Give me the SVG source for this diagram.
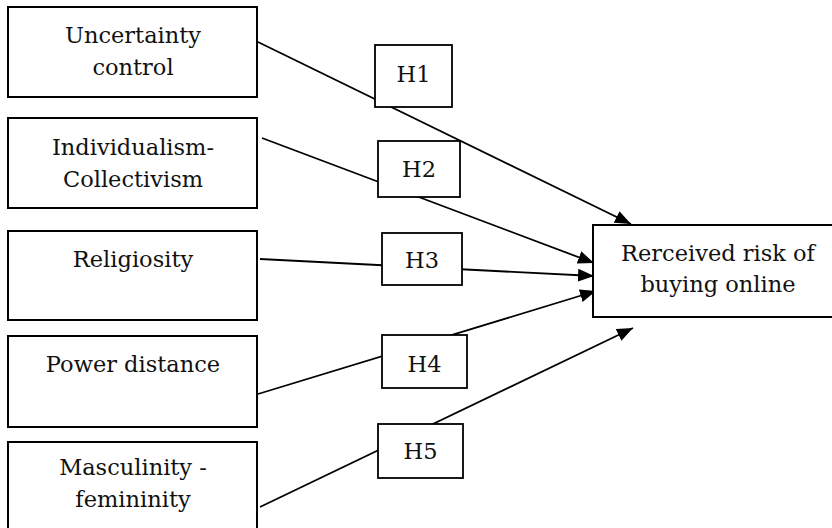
<svg xmlns="http://www.w3.org/2000/svg" width="832" height="528" viewBox="0 0 832 528">
<style>
.box{fill:#fff;stroke:#000;stroke-width:2}
.hb{fill:#fff;stroke:#000;stroke-width:1.8}
.t{font-family:"DejaVu Serif","Liberation Serif",serif;font-size:22.5px;fill:#111;text-anchor:middle}
.c{stroke:#000;stroke-width:1.8;fill:none;marker-end:url(#ah)}
</style>
<defs>
<marker id="ah" markerUnits="userSpaceOnUse" markerWidth="17" markerHeight="14" refX="16" refY="6.5" orient="auto">
<path d="M0,0 L16,6.5 L0,13 z" fill="#000"/>
</marker>
</defs>
<rect width="832" height="528" fill="#fff"/>
<g id="connectors">
<line class="c" x1="258" y1="42" x2="631" y2="224"/>
<line class="c" x1="262" y1="138" x2="594" y2="263"/>
<line class="c" x1="260" y1="259" x2="594" y2="276"/>
<line class="c" x1="258" y1="394" x2="596" y2="291"/>
<line class="c" x1="260" y1="507" x2="633" y2="328"/>
</g>
<g id="uncertainty">
<rect class="box" x="8" y="7" width="249" height="90"/>
<text class="t" x="133" y="43">Uncertainty</text>
<text class="t" x="133" y="75">control</text>
</g>
<g id="individualism">
<rect class="box" x="8" y="118" width="249" height="90"/>
<text class="t" x="133" y="155">Individualism-</text>
<text class="t" x="133" y="187">Collectivism</text>
</g>
<g id="religiosity">
<rect class="box" x="8" y="231" width="249" height="89"/>
<text class="t" x="133" y="267">Religiosity</text>
</g>
<g id="power">
<rect class="box" x="8" y="336" width="249" height="91"/>
<text class="t" x="133" y="372">Power distance</text>
</g>
<g id="masculinity">
<rect class="box" x="8" y="442" width="249" height="95"/>
<text class="t" x="133" y="475">Masculinity -</text>
<text class="t" x="133" y="507">femininity</text>
</g>
<g id="risk">
<rect class="box" x="593" y="225" width="250" height="92"/>
<text class="t" x="718" y="261">Rerceived risk of</text>
<text class="t" x="718" y="292">buying online</text>
</g>
<g id="h1">
<rect class="hb" x="375" y="45" width="77" height="62"/>
<text class="t" x="413.5" y="82">H1</text>
</g>
<g id="h2">
<rect class="hb" x="378" y="141" width="82" height="56"/>
<text class="t" x="419" y="177">H2</text>
</g>
<g id="h3">
<rect class="hb" x="382" y="233" width="80" height="52"/>
<text class="t" x="422" y="268">H3</text>
</g>
<g id="h4">
<rect class="hb" x="382" y="335" width="85" height="53"/>
<text class="t" x="424.5" y="372">H4</text>
</g>
<g id="h5">
<rect class="hb" x="378" y="424" width="85" height="54"/>
<text class="t" x="420.5" y="459">H5</text>
</g>
</svg>
